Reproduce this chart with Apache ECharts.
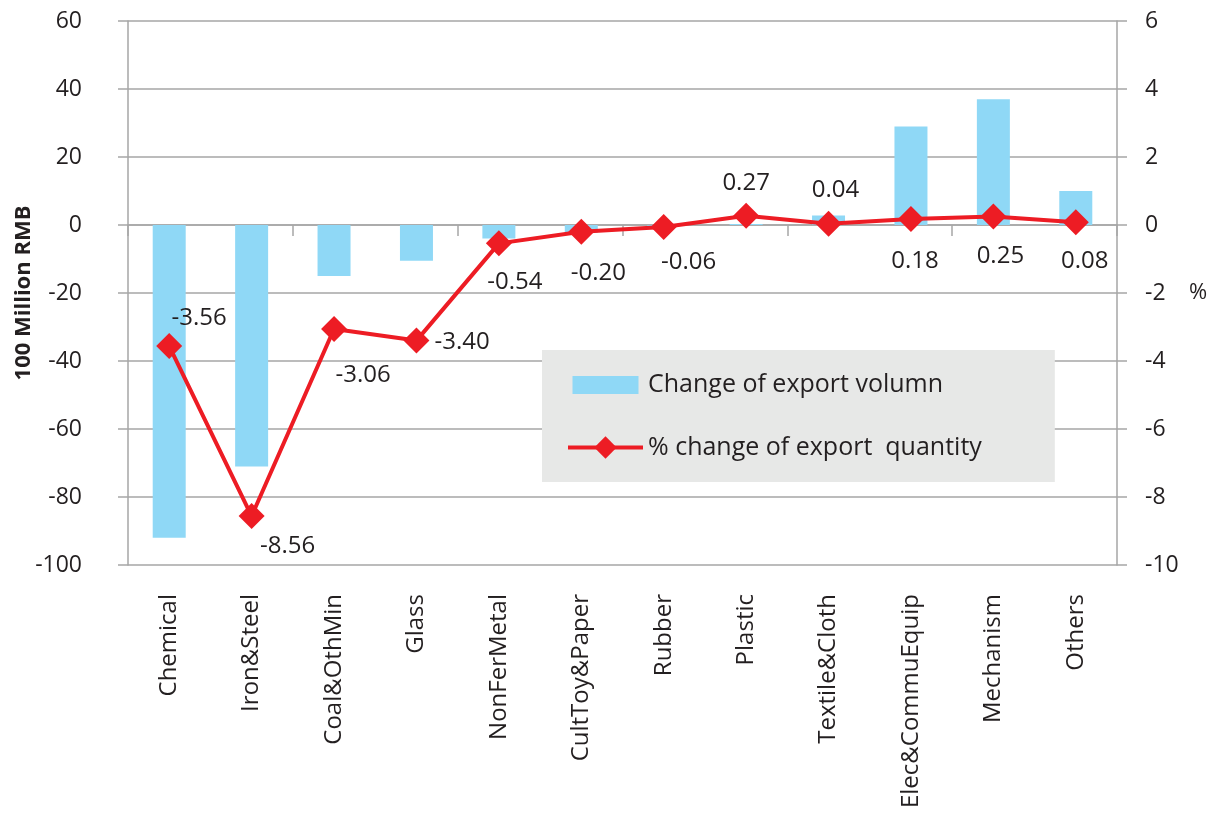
<!DOCTYPE html>
<html>
<head>
<meta charset="utf-8">
<script src="https://cdn.jsdelivr.net/npm/echarts@6/dist/echarts.min.js"></script>
<style>html,body{margin:0;padding:0;background:#fff;}#c{width:1211px;height:817px;}</style>
</head>
<body>
<div id="c"></div>
<script>
const categories = ['Chemical','Iron&Steel','Coal&OthMin','Glass','NonFerMetal','CultToy&Paper','Rubber','Plastic','Textile&Cloth','Elec&CommuEquip','Mechanism','Others'];
const exportVolumeChange = [-92, -71, -15, -10.5, -4, -2.3, -0.3, 0.3, 2.8, 29, 37, 10];
const exportQuantityPct = [-3.56, -8.56, -3.06, -3.40, -0.54, -0.20, -0.06, 0.27, 0.04, 0.18, 0.25, 0.08];
const leftTicks = {min: -100, max: 60, interval: 20};
const rightTicks = {min: -10, max: 6, interval: 2};

// label placement (style only)
const labelPlacement = [
  ['top', [30, 2]], ['bottom', [36, 0]], ['bottom', [29, 16]], ['right', [0, 2]],
  ['bottom', [16, 9]], ['bottom', [17, 11]], ['bottom', [25, 5]], ['top', [0, -3]],
  ['top', [7, -3]], ['bottom', [4, 12]], ['bottom', [7, 10]], ['bottom', [9, 9]]
];

const FONT = 'Open Sans';
const TXT = '#231f20';
const GRID = '#a6a6a6';

const chart = echarts.init(document.getElementById('c'));
chart.setOption({
  animation: false,
  textStyle: {fontFamily: FONT, color: TXT},
  grid: {left: 128, right: 94, top: 21, bottom: 252, containLabel: false, outerBoundsMode: 'none'},
  legend: {
    left: 542, top: 350, orient: 'vertical',
    backgroundColor: '#e7e8e7',
    padding: [21, 73, 22, 24],
    itemGap: 36, itemWidth: 75, itemHeight: 28, itemTextGap: 8,
    textStyle: {fontFamily: FONT, fontSize: 25, color: TXT},
    data: [
      {name: 'Change of export volumn', icon: 'path://M-4.5,-5L-4.5,-5M70.5,23L70.5,23M0,0H66V18H0Z'},
      {name: '% change of export  quantity', lineStyle: {width: 4, color: '#ed1c24'}}
    ]
  },
  xAxis: [
    {
      type: 'category', data: categories, position: 'bottom',
      axisLine: {onZero: true, onZeroAxisIndex: 0, lineStyle: {color: GRID, width: 1.5}},
      axisTick: {show: true, length: 11, lineStyle: {color: GRID, width: 1.5}},
      axisLabel: {show: false}
    },
    {
      type: 'category', data: categories, position: 'bottom',
      axisLine: {show: false, onZero: false},
      axisTick: {show: false},
      axisLabel: {rotate: 90, margin: 29, fontSize: 24, color: TXT, fontFamily: FONT}
    }
  ],
  yAxis: [
    {
      type: 'value', min: leftTicks.min, max: leftTicks.max, interval: leftTicks.interval,
      name: '100 Million RMB', nameLocation: 'middle', nameGap: 93, nameRotate: 90,
      nameMoveOverlap: false,
      nameTextStyle: {fontSize: 22, fontWeight: 'bold', color: TXT, fontFamily: FONT},
      axisLine: {show: true, lineStyle: {color: GRID, width: 1.5}},
      axisTick: {show: true, length: 10, lineStyle: {color: GRID, width: 1.5}},
      axisLabel: {margin: 46, fontSize: 23, color: TXT},
      splitLine: {show: true, lineStyle: {color: GRID, width: 1.5}}
    },
    {
      type: 'value', min: rightTicks.min, max: rightTicks.max, interval: rightTicks.interval,
      position: 'right',
      name: '%', nameLocation: 'middle', nameGap: 72, nameRotate: 0,
      nameMoveOverlap: false,
      nameTextStyle: {fontSize: 22, color: TXT, fontFamily: FONT},
      axisLine: {show: true, lineStyle: {color: GRID, width: 1.5}},
      axisTick: {show: true, length: 10, lineStyle: {color: GRID, width: 1.5}},
      axisLabel: {margin: 28, fontSize: 23, color: TXT},
      splitLine: {show: false}
    }
  ],
  series: [
    {
      name: 'Change of export volumn', type: 'bar', xAxisIndex: 0, yAxisIndex: 0,
      data: exportVolumeChange, barWidth: 33,
      itemStyle: {color: '#8fd8f6'}
    },
    {
      name: '% change of export  quantity', type: 'line', xAxisIndex: 0, yAxisIndex: 1,
      symbol: 'diamond', symbolSize: 26,
      lineStyle: {color: '#ed1c24', width: 4},
      itemStyle: {color: '#ed1c24'},
      data: exportQuantityPct.map((v, i) => ({
        value: v,
        label: {show: true, position: labelPlacement[i][0], offset: labelPlacement[i][1],
          formatter: (p) => p.value.toFixed(2), fontSize: 24, color: TXT, fontFamily: FONT}
      }))
    }
  ]
});
</script>
</body>
</html>
